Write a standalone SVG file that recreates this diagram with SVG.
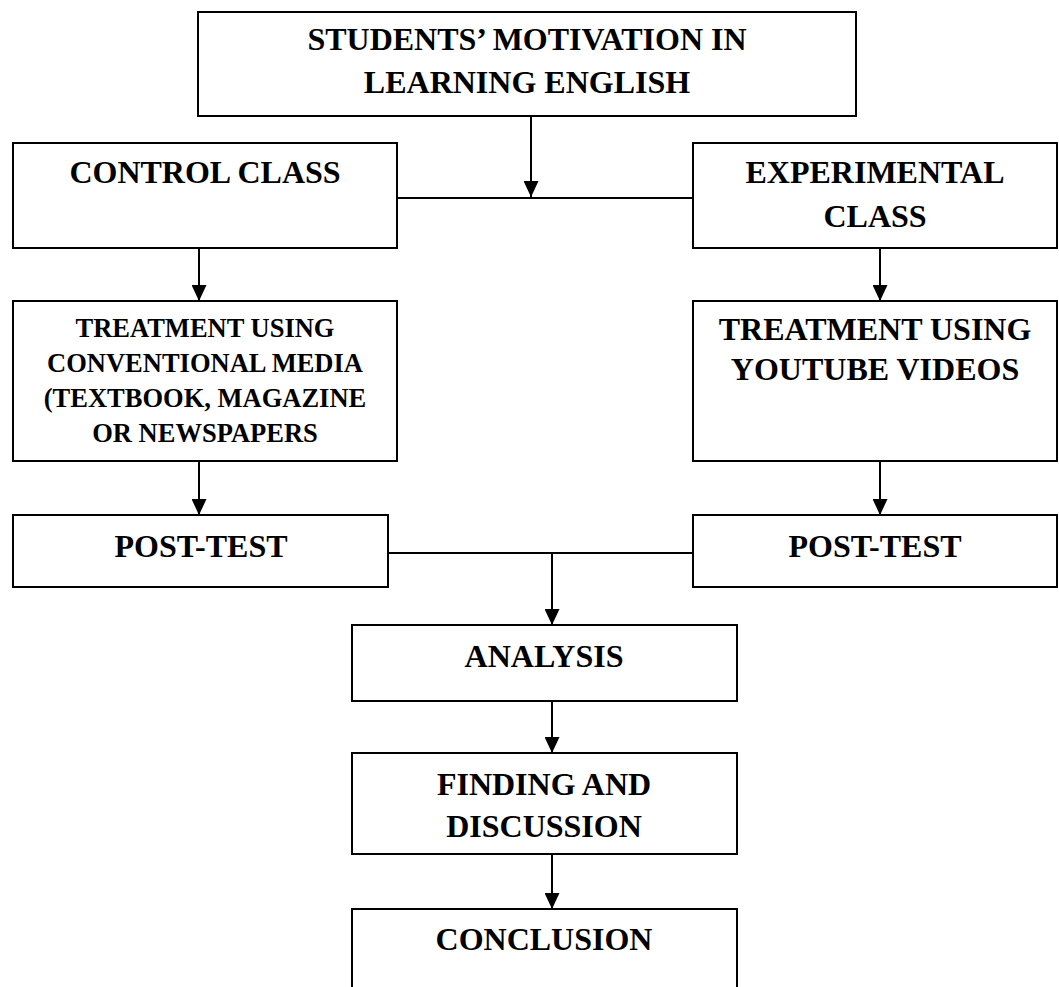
<svg xmlns="http://www.w3.org/2000/svg" width="1059" height="987" viewBox="0 0 1059 987">
<style>
.box{fill:#fff;stroke:#000;stroke-width:2}
.t{font-family:"Liberation Serif","Times New Roman",serif;font-weight:bold;font-size:32px;text-anchor:middle;fill:#000}
.s{font-size:26.5px}
.c{fill:none;stroke:#000;stroke-width:2}
</style>
<defs>
<marker id="ah" markerWidth="16" markerHeight="15" refX="16" refY="7.5" orient="auto" markerUnits="userSpaceOnUse" viewBox="0 0 16 15">
<path d="M0,0 L16,7.5 L0,15 Z" fill="#000"/>
</marker>
</defs>
<rect width="1059" height="987" fill="#fff"/>
<g id="connectors">
<line class="c" x1="531" y1="116" x2="531" y2="197" marker-end="url(#ah)"/>
<line class="c" x1="397" y1="198" x2="693" y2="198"/>
<line class="c" x1="199" y1="248" x2="199" y2="301" marker-end="url(#ah)"/>
<line class="c" x1="880" y1="248" x2="880" y2="301" marker-end="url(#ah)"/>
<line class="c" x1="199" y1="461" x2="199" y2="515" marker-end="url(#ah)"/>
<line class="c" x1="880" y1="461" x2="880" y2="515" marker-end="url(#ah)"/>
<line class="c" x1="388" y1="553" x2="693" y2="553"/>
<line class="c" x1="552" y1="553" x2="552" y2="625" marker-end="url(#ah)"/>
<line class="c" x1="552" y1="701" x2="552" y2="753" marker-end="url(#ah)"/>
<line class="c" x1="552" y1="854" x2="552" y2="909" marker-end="url(#ah)"/>
</g>
<g id="motivation">
<rect class="box" x="198" y="12" width="658" height="104"/>
<text class="t" x="527" y="50">STUDENTS’ MOTIVATION IN</text>
<text class="t" x="527" y="93">LEARNING ENGLISH</text>
</g>
<g id="control">
<rect class="box" x="13" y="143" width="384" height="105"/>
<text class="t" x="205" y="183">CONTROL CLASS</text>
</g>
<g id="experimental">
<rect class="box" x="693" y="143" width="364" height="105"/>
<text class="t" x="875" y="183">EXPERIMENTAL</text>
<text class="t" x="875" y="227">CLASS</text>
</g>
<g id="treatment-conventional">
<rect class="box" x="13" y="301" width="384" height="160"/>
<text class="t s" x="205" y="337">TREATMENT USING</text>
<text class="t s" x="205" y="372">CONVENTIONAL MEDIA</text>
<text class="t s" x="205" y="407">(TEXTBOOK, MAGAZINE</text>
<text class="t s" x="205" y="442">OR NEWSPAPERS</text>
</g>
<g id="treatment-youtube">
<rect class="box" x="693" y="301" width="364" height="160"/>
<text class="t" x="875" y="340">TREATMENT USING</text>
<text class="t" x="875" y="380">YOUTUBE VIDEOS</text>
</g>
<g id="posttest-control">
<rect class="box" x="13" y="515" width="375" height="72"/>
<text class="t" x="201" y="557">POST-TEST</text>
</g>
<g id="posttest-experimental">
<rect class="box" x="693" y="515" width="364" height="72"/>
<text class="t" x="875" y="557">POST-TEST</text>
</g>
<g id="analysis">
<rect class="box" x="352" y="625" width="385" height="76"/>
<text class="t" x="544" y="667">ANALYSIS</text>
</g>
<g id="finding">
<rect class="box" x="352" y="753" width="385" height="101"/>
<text class="t" x="544" y="795">FINDING AND</text>
<text class="t" x="544" y="837">DISCUSSION</text>
</g>
<g id="conclusion">
<rect class="box" x="352" y="909" width="385" height="100"/>
<text class="t" x="544" y="950">CONCLUSION</text>
</g>
</svg>
